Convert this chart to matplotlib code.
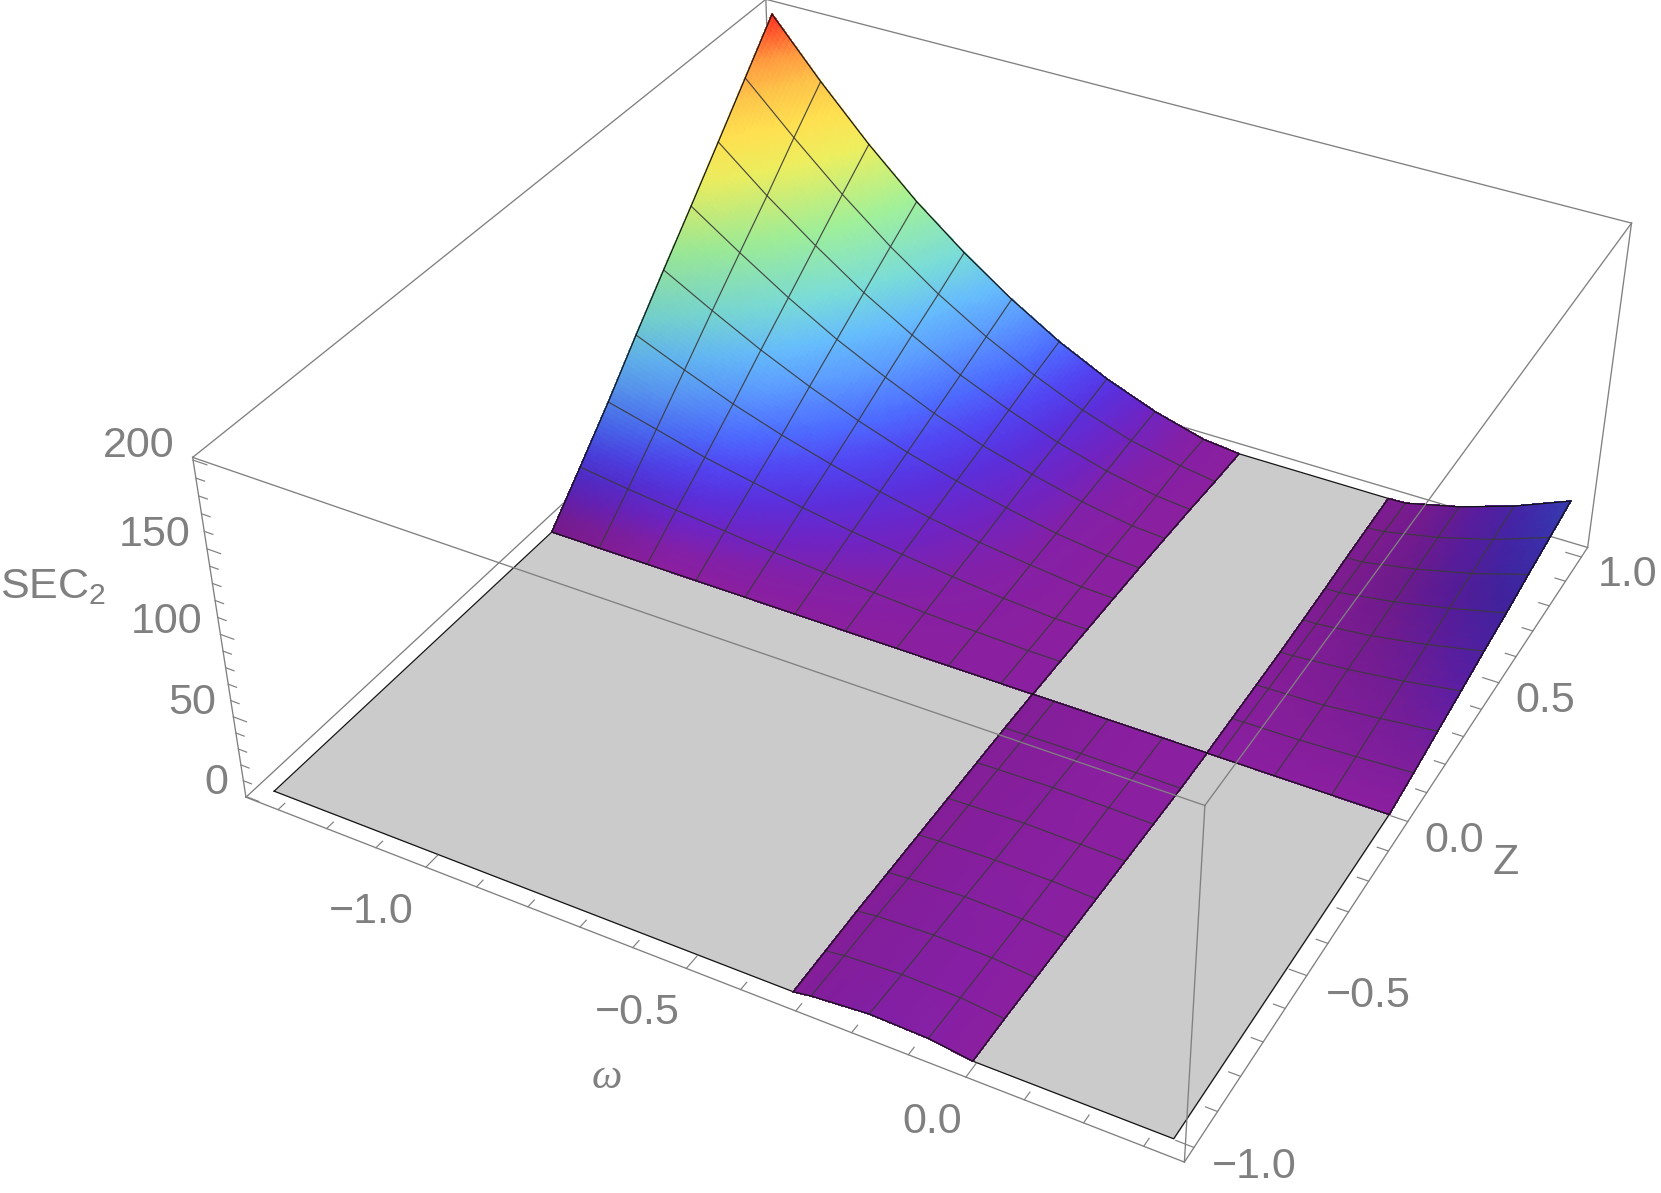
import numpy as np
import matplotlib
matplotlib.use('Agg')
import matplotlib.pyplot as plt
from matplotlib.colors import LinearSegmentedColormap
from mpl_toolkits.mplot3d.art3d import Poly3DCollection

W, H = 1661, 1193

# mesh positions, omega then Z
omega_main = [-1.3333, -1.2292, -1.125, -1.0208, -0.9167, -0.8125, -0.7083, -0.6042, -0.5, -0.3958, -0.3333]
omega_band = [-0.3333, -0.2917, -0.1875, -0.0833, 0.0]
omega_right = [0.0, 0.0208, 0.125, 0.2292, 0.3333]
z_upper = [1.0, 0.875, 0.75, 0.625, 0.5, 0.375, 0.25, 0.125, 0.0]
z_lower = [-1.0, -0.875, -0.75, -0.625, -0.5, -0.375, -0.25, -0.125, 0.0]

sec_main = [
    [199.1, 164.8, 133.0, 104.5, 79.9, 58.1, 39.2, 23.7, 11.4, 2.5, 0],
    [173.8, 144.3, 116.5, 91.4, 69.4, 50.5, 34.5, 20.8, 10.2, 3.4, 0],
    [148.6, 122.9, 99.6, 78.1, 59.6, 42.7, 29.2, 17.6, 8.5, 2.2, 0],
    [123.6, 102.6, 82.6, 64.7, 49.4, 35.4, 23.9, 15.0, 7.1, 1.5, 0],
    [99.1, 82.0, 65.8, 51.5, 38.9, 28.0, 19.3, 11.9, 5.4, 1.3, 0],
    [74.1, 60.9, 48.4, 37.9, 28.9, 21.0, 14.2, 8.5, 4.3, 0.8, 0],
    [48.2, 40.2, 31.8, 25.4, 19.3, 14.0, 9.7, 5.8, 2.5, 0.3, 0],
    [23.9, 19.6, 16.1, 12.8, 9.4, 7.0, 4.6, 2.5, 1.2, 0.1, 0],
    [0, 0, 0, 0, 0, 0, 0, 0, 0, 0, 0],
]
sec_band = [
    [0, 1.7, 4.5, 3.5, 0],
    [0, 1.5, 3.4, 2.7, 0],
    [0, 1.5, 2.9, 2.2, 0],
    [0, 0.9, 2.4, 1.6, 0],
    [0, 0.8, 1.5, 1.2, 0],
    [0, 0.4, 1.3, 0.6, 0],
    [0, 0.4, 1.0, 0.6, 0],
    [0, 0.1, 0.3, 0.1, 0],
    [0, 0, 0, 0, 0],
]
sec_right = [
    [0, 0.3, 8.3, 19.2, 32.9],
    [0, 0.7, 7.5, 16.8, 28.7],
    [0, 0.3, 6.4, 14.4, 24.6],
    [0, 0.2, 5.2, 12.0, 20.1],
    [0, 0.2, 3.6, 9.2, 16.3],
    [0, 0.2, 2.8, 6.7, 12.0],
    [0, 0.1, 1.1, 4.3, 8.0],
    [0, 0.1, 0.5, 1.9, 3.7],
    [0, 0, 0, 0, 0],
]
# omega where the surface meets zero, row by row (the edges bow a little)
edge_main_end = [-0.321, -0.323, -0.326, -0.328, -0.330, -0.331, -0.332, -0.333, -0.3333]
edge_right_start = [-0.014, -0.012, -0.010, -0.007, -0.005, -0.003, -0.002, -0.001, 0.0]
edge_band_start = [-0.324, -0.326, -0.328, -0.329, -0.330, -0.331, -0.332, -0.333, -0.3333]
edge_band_end = [-0.006, -0.006, -0.005, -0.004, -0.003, -0.002, -0.001, 0.0, 0.0]
omega_min, omega_max = -1.3333, 0.3333

omega_ticks = [-1.3, -1.2, -1.1, -1.0, -0.9, -0.8, -0.7, -0.6, -0.5, -0.4, -0.3, -0.2, -0.1, 0.0, 0.1, 0.2, 0.3]
omega_major = [-1.0, -0.5, 0.0]
zed_ticks = [-1.0, -0.9, -0.8, -0.7, -0.6, -0.5, -0.4, -0.3, -0.2, -0.1, 0.0, 0.1, 0.2, 0.3, 0.4, 0.5, 0.6, 0.7, 0.8, 0.9, 1.0]
zed_major = [-1.0, -0.5, 0.0, 0.5, 1.0]
sec_ticks = list(range(0, 201, 10))
sec_major = [0, 50, 100, 150, 200]

height_stops = [0, 5, 12, 20, 28, 38, 52, 64, 80, 105, 133, 150, 165, 180, 200]
height_colors = ['#8a1fa0', '#8320a8', '#6e24c4', '#5a30dc', '#5244f2', '#4e6cff', '#5c9cff', '#66bcfc',
                 '#7adcd8', '#a0f09a', '#eef060', '#ffe050', '#fdc64a', '#ff9a40', '#ff2a20']

GREY = '#808080'
cmap = LinearSegmentedColormap.from_list('sec', [(h/200, c) for h, c in zip(height_stops, height_colors)])

fig = plt.figure(figsize=(W/100, H/100), dpi=100)
side = 1458.6
ax = fig.add_axes([199.3/W, -62.2/H, side/W, side/H], projection='3d')
ax.computed_zorder = False
xb = (-1.3667, 0.3667)
yb = (-1.04, 1.04)
zb = (-0.5, 201.5)
ax.set_xlim(*xb, view_margin=0)
ax.set_ylim(*yb, view_margin=0)
ax.set_zlim(*zb, view_margin=0)
ax.view_init(35.8668, -61.5816, 0)
ax.set_proj_type('persp', focal_length=0.4371)
ax.set_box_aspect((1, 1.0013, 0.4007))
ax.set_axis_off()


def shade_main(w, z, h):
    return 1 - 0.14*np.clip(1 - (w + 1.3333)/0.25, 0, 1)*np.clip(1 - h/150, 0, 1)


def shade_band(w, z, h):
    return 1 - 0.05*np.clip(-(w + 0.1)/0.23, 0, 1)


def shade_right(w, z, h):
    return 1 - (0.1 + 0.2*w/0.3333)*np.clip(z*1.5, 0, 1)


def draw_patch(ws, zs, table, shade, first=None, last=None, sub=8):
    # each mesh cell is cut in small quads so the colour runs smoothly
    table = np.array(table, float)
    wg = np.tile(np.array(ws, float), (len(zs), 1))
    if first is not None:
        wg[:, 0] = first
    if last is not None:
        wg[:, -1] = last
    quads, cols = [], []
    f = np.linspace(0, 1, sub + 1)
    for j in range(len(zs) - 1):
        for i in range(wg.shape[1] - 1):
            for a in range(sub):
                for b in range(sub):
                    pts = []
                    for fa, fb in ((f[a], f[b]), (f[a+1], f[b]), (f[a+1], f[b+1]), (f[a], f[b+1])):
                        w = ((1-fa)*(1-fb)*wg[j, i] + fa*(1-fb)*wg[j, i+1]
                             + (1-fa)*fb*wg[j+1, i] + fa*fb*wg[j+1, i+1])
                        z = zs[j] + fb*(zs[j+1] - zs[j])
                        h = ((1-fa)*(1-fb)*table[j, i] + fa*(1-fb)*table[j, i+1]
                             + (1-fa)*fb*table[j+1, i] + fa*fb*table[j+1, i+1])
                        pts.append((w, z, h))
                    pts = np.array(pts)
                    m = pts.mean(axis=0)
                    c = np.array(cmap(m[2]/200))[:3]*shade(m[0], m[1], m[2])
                    quads.append(pts)
                    cols.append(np.clip(c, 0, 1))
    col = Poly3DCollection(quads, facecolors=cols, edgecolors=cols, linewidths=0.7, antialiased=False, zorder=3)
    ax.add_collection3d(col)
    # mesh lines
    for i in range(1, wg.shape[1] - 1):
        ax.plot(wg[:, i], zs, table[:, i], color='#3a3a3a', lw=0.85, alpha=0.9, zorder=4, clip_on=False)
    for j in range(1, len(zs) - 1):
        ax.plot(wg[j], [zs[j]]*wg.shape[1], table[j], color='#3a3a3a', lw=0.85, alpha=0.9, zorder=4, clip_on=False)
    # outline of the patch
    for line in ((wg[0], [zs[0]]*wg.shape[1], table[0]), (wg[-1], [zs[-1]]*wg.shape[1], table[-1]),
                 (wg[:, 0], zs, table[:, 0]), (wg[:, -1], zs, table[:, -1])):
        ax.plot(*line, color='#141414', lw=0.9, zorder=4.5, clip_on=False)


def draw_floor(left, right, zs):
    # left and right are omega per row of zs, or one value for a straight side
    left = np.broadcast_to(left, (len(zs),))
    right = np.broadcast_to(right, (len(zs),))
    poly = list(zip(left, zs, [0]*len(zs))) + list(zip(right, zs, [0]*len(zs)))[::-1]
    ax.add_collection3d(Poly3DCollection([poly], facecolors='#cbcbcb', edgecolors='#cbcbcb', linewidths=0.3, zorder=2))
    xs = [p[0] for p in poly] + [poly[0][0]]
    ys = [p[1] for p in poly] + [poly[0][1]]
    ax.plot(xs, ys, [0]*len(xs), color='#141414', lw=0.9, zorder=2.5, clip_on=False)


# back of the box, behind the surface
for p, q in (((xb[0], yb[0], zb[0]), (xb[0], yb[1], zb[0])),
             ((xb[0], yb[1], zb[0]), (xb[1], yb[1], zb[0])),
             ((xb[0], yb[1], zb[0]), (xb[0], yb[1], zb[1])),
             ((xb[0], yb[0], zb[1]), (xb[0], yb[1], zb[1])),
             ((xb[0], yb[1], zb[1]), (xb[1], yb[1], zb[1]))):
    ax.plot(*zip(p, q), color=GREY, lw=0.95, zorder=1, clip_on=False)

draw_floor(omega_min, edge_band_start, z_lower)
draw_floor(edge_main_end, edge_right_start, z_upper)
draw_floor(edge_band_end, omega_max, z_lower)

draw_patch(omega_main, z_upper, sec_main, shade_main, last=edge_main_end, sub=14)
draw_patch(omega_band, z_lower, sec_band, shade_band, first=edge_band_start, last=edge_band_end)
draw_patch(omega_right, z_upper, sec_right, shade_right, first=edge_right_start)

# front of the box, over the surface
for p, q in (((xb[0], yb[0], zb[0]), (xb[1], yb[0], zb[0])),
             ((xb[1], yb[0], zb[0]), (xb[1], yb[1], zb[0])),
             ((xb[0], yb[0], zb[0]), (xb[0], yb[0], zb[1])),
             ((xb[1], yb[0], zb[0]), (xb[1], yb[0], zb[1])),
             ((xb[1], yb[1], zb[0]), (xb[1], yb[1], zb[1])),
             ((xb[0], yb[0], zb[1]), (xb[1], yb[0], zb[1])),
             ((xb[1], yb[0], zb[1]), (xb[1], yb[1], zb[1]))):
    ax.plot(*zip(p, q), color=GREY, lw=0.95, zorder=5, clip_on=False)

# ticks
for t in omega_ticks:
    n = 0.04 if t in omega_major else 0.022
    ax.plot([t, t], [yb[0], yb[0] + n], [zb[0], zb[0]], color=GREY, lw=0.85, zorder=5, clip_on=False)
for t in zed_ticks:
    n = 0.03 if t in zed_major else 0.02
    ax.plot([xb[1], xb[1] - n], [t, t], [zb[0], zb[0]], color=GREY, lw=0.85, zorder=5, clip_on=False)
for t in sec_ticks:
    n = 0.027 if t in sec_major else 0.017
    ax.plot([xb[0], xb[0] + n], [yb[0], yb[0]], [t, t], color=GREY, lw=0.85, zorder=5, clip_on=False)


def label(px, py, s, size=31, **kw):
    fig.text(px/W, 1 - (py + 3.2)/H, s, color=GREY, fontsize=size, ha='center', va='center', **kw)


sans = dict(family='Liberation Sans')
for px, py, s in ((139, 443, '200'), (155, 532, '150'), (167, 619, '100'), (192, 700, '50'), (216, 780, '0'),
                  (371, 909, '\u22121.0'), (637, 1010, '\u22120.5'), (932, 1119, '0.0'),
                  (1254, 1164, '\u22121.0'), (1368, 993, '\u22120.5'), (1454, 838, '0.0'), (1545, 698, '0.5'), (1628, 572, '1.0')):
    label(px, py, s, **sans)
label(1506, 860, 'Z', **sans)
label(607, 1075, '\u03c9', family='Liberation Serif', style='italic')
plt.rcParams['mathtext.fontset'] = 'custom'
plt.rcParams['mathtext.rm'] = 'Liberation Sans'
fig.text(0, 1 - 587/H, r'SEC$_{\mathrm{2}}$', color=GREY, fontsize=31, ha='left', va='center', **sans)

fig.savefig('out.png', dpi=100)
